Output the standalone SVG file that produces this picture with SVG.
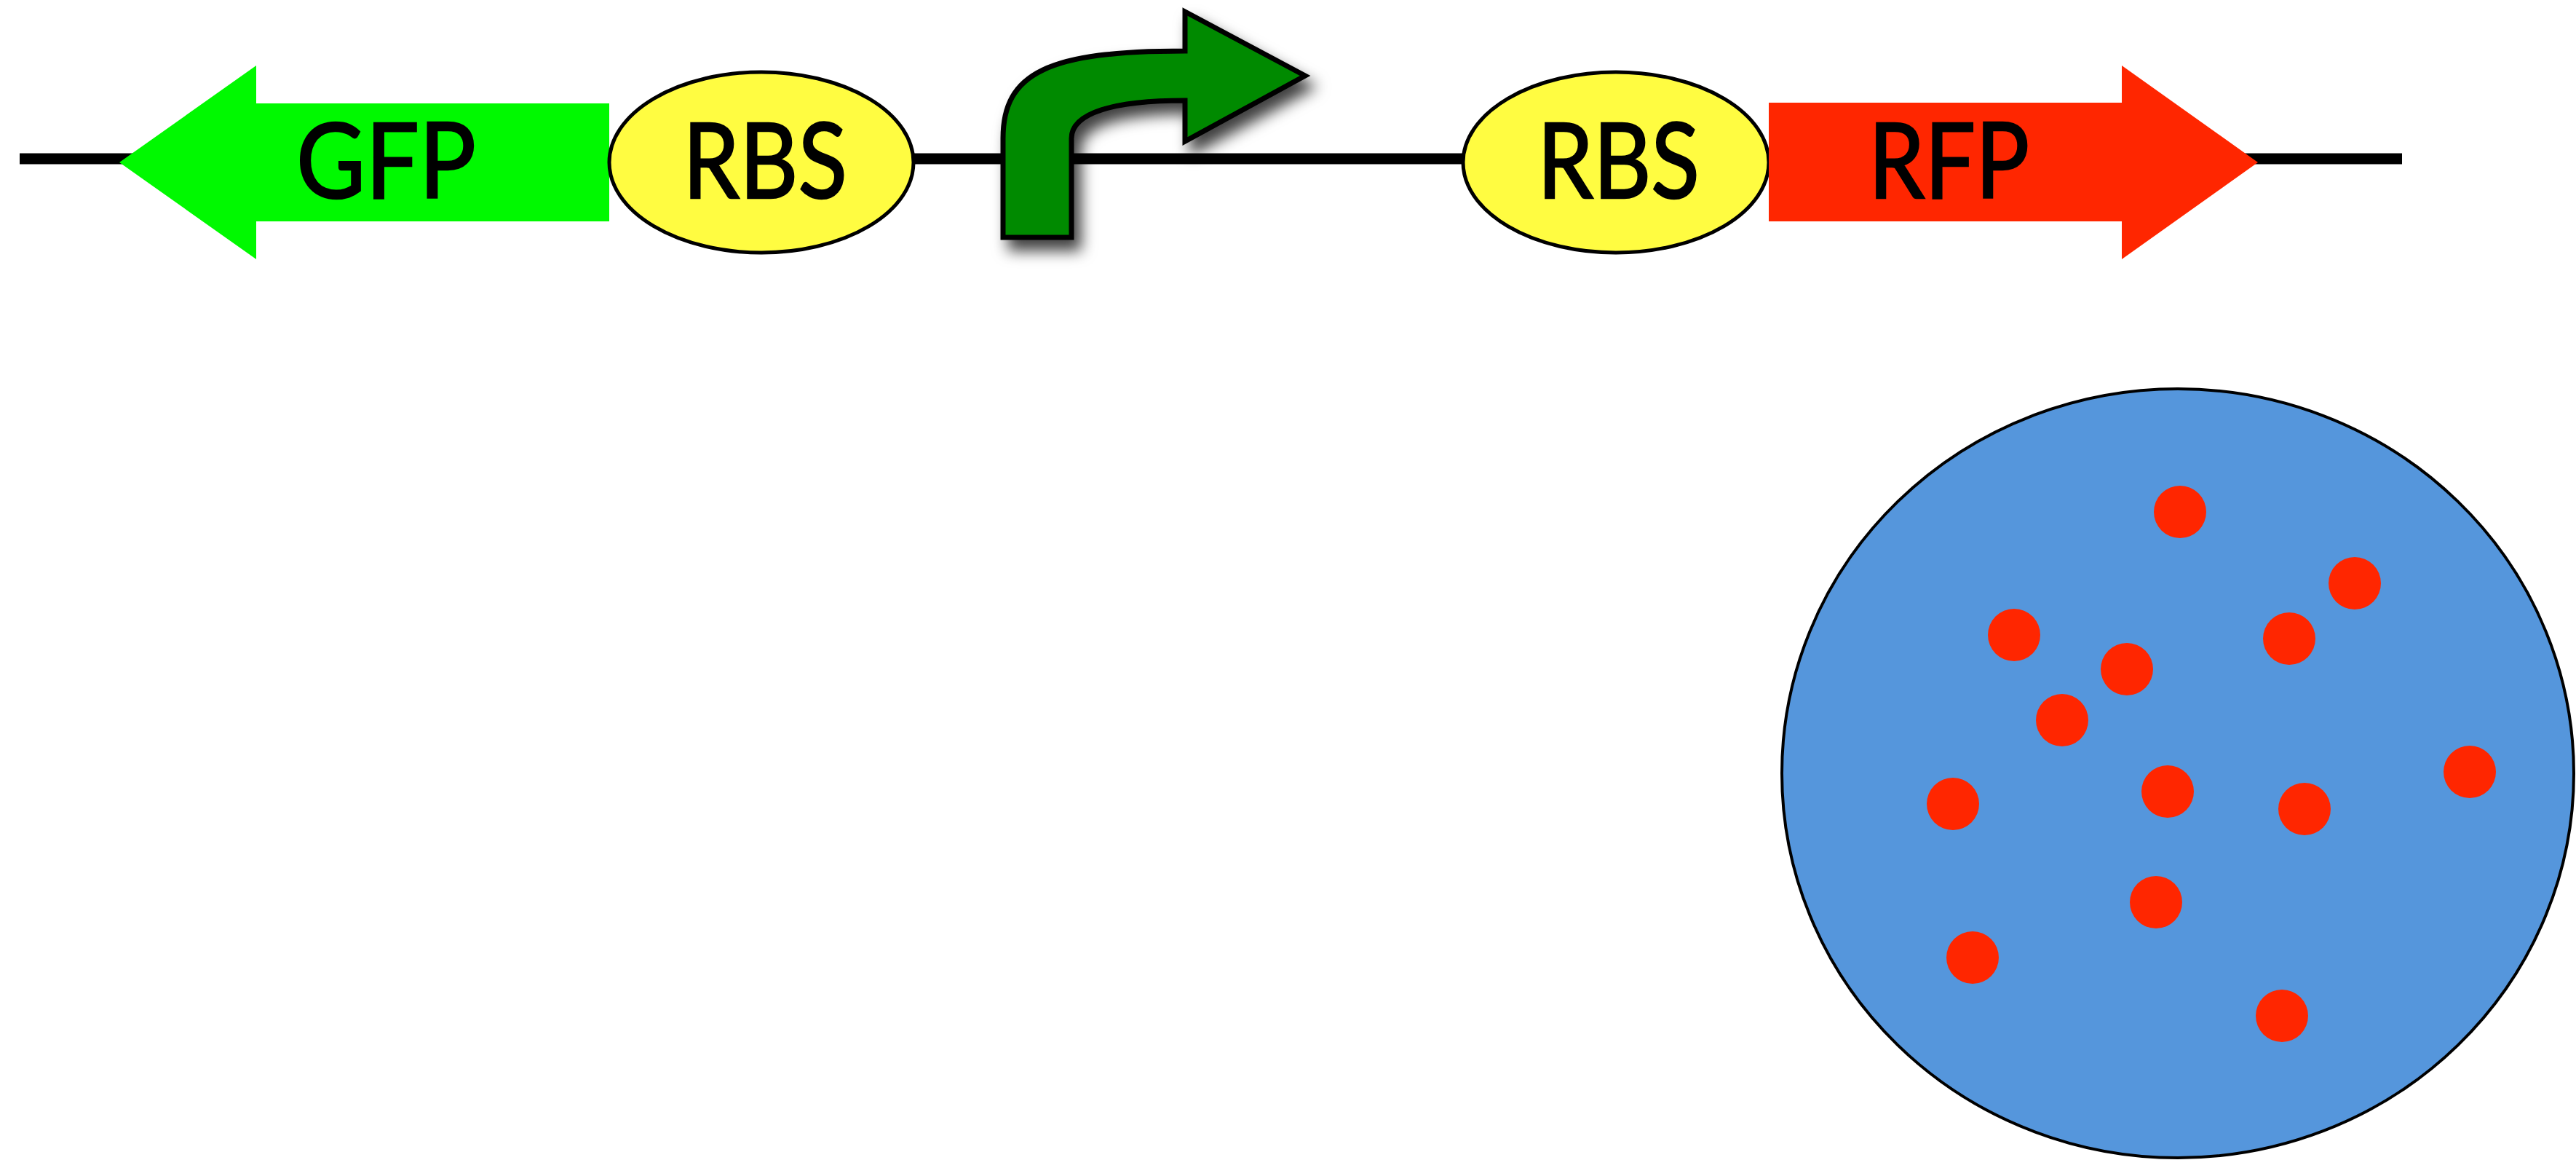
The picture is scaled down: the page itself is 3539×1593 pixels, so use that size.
<svg xmlns="http://www.w3.org/2000/svg" width="3539" height="1593" viewBox="0 0 3539 1593">
<defs>
<style>
.lbl{font-family:Lato,"Open Sans","Liberation Sans",sans-serif;font-size:143px;fill:#000;stroke:#000;stroke-width:2.5;}
.rbs{fill:#fffc41;stroke:#000;stroke-width:5;}
.dot{fill:#ff2600;}
</style>
<filter id="shadow" x="-20%" y="-20%" width="150%" height="160%">
<feDropShadow dx="10" dy="15" stdDeviation="10" flood-color="#000" flood-opacity="0.75"/>
</filter>
</defs>
<rect width="3539" height="1593" fill="#fff"/>
<g id="connectors">
<line x1="27" y1="218" x2="3300" y2="218" stroke="#000" stroke-width="15"/>
</g>
<g id="gfp">
<polygon points="164,223 352,90 352,142 837,142 837,304 352,304 352,356" fill="#00f900"/>
<text class="lbl" x="407" y="272" textLength="247" lengthAdjust="spacingAndGlyphs">GFP</text>
</g>
<g id="rbs1">
<ellipse class="rbs" cx="1046" cy="223" rx="209" ry="124"/>
<text class="lbl" x="938" y="272" textLength="226" lengthAdjust="spacingAndGlyphs">RBS</text>
</g>
<g id="promoter">
<path d="M1378,326 L1378,190 C1378,100 1440,70 1628,70 L1628,16 L1793,104 L1628,194 L1628,138 C1530,138 1472,155 1472,190 L1472,326 Z" fill="#008a00" stroke="#000" stroke-width="7" stroke-linejoin="miter" filter="url(#shadow)"/>
</g>
<g id="rbs2">
<ellipse class="rbs" cx="2220" cy="223" rx="210" ry="124"/>
<text class="lbl" x="2112" y="272" textLength="223" lengthAdjust="spacingAndGlyphs">RBS</text>
</g>
<g id="rfp">
<polygon points="2430,141 2915,141 2915,90 3102,223 2915,356 2915,304 2430,304" fill="#ff2600"/>
<text class="lbl" x="2567" y="272" textLength="221" lengthAdjust="spacingAndGlyphs">RFP</text>
</g>
<g id="cell">
<ellipse cx="2992" cy="1062" rx="544" ry="528" fill="#5596dc" stroke="#000" stroke-width="4"/>
<circle class="dot" cx="2995" cy="703" r="36"/>
<circle class="dot" cx="3235" cy="801" r="36"/>
<circle class="dot" cx="2767" cy="872" r="36"/>
<circle class="dot" cx="3145" cy="877" r="36"/>
<circle class="dot" cx="2922" cy="919" r="36"/>
<circle class="dot" cx="2833" cy="989" r="36"/>
<circle class="dot" cx="2683" cy="1104" r="36"/>
<circle class="dot" cx="2978" cy="1087" r="36"/>
<circle class="dot" cx="3166" cy="1111" r="36"/>
<circle class="dot" cx="3393" cy="1060" r="36"/>
<circle class="dot" cx="2962" cy="1239" r="36"/>
<circle class="dot" cx="2710" cy="1315" r="36"/>
<circle class="dot" cx="3135" cy="1395" r="36"/>
</g>
</svg>
